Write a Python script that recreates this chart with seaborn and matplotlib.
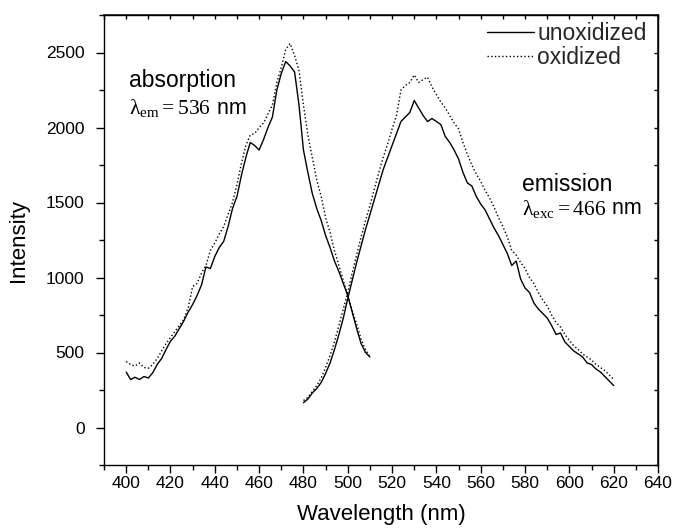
import matplotlib
matplotlib.use("Agg")
import matplotlib.pyplot as plt
from matplotlib.lines import Line2D
from matplotlib.ticker import MultipleLocator
import seaborn as sns

# ---- data ----
abs_wl = list(range(400, 511, 2))
abs_unox = [370, 320, 335, 320, 340, 330, 365, 420, 460, 520, 575, 610, 660, 710, 770,
            820, 880, 950, 1070, 1060, 1140, 1200, 1240, 1340, 1460, 1540, 1680, 1800,
            1900, 1880, 1850, 1920, 2000, 2070, 2250, 2360, 2440, 2410, 2370, 2150, 1850,
            1700, 1560, 1460, 1380, 1280, 1200, 1110, 1040, 960, 880, 770, 660, 560, 500, 470]
abs_ox = [440, 420, 410, 430, 400, 395, 420, 460, 510, 560, 600, 640, 680, 720, 800,
          940, 960, 1030, 1080, 1180, 1230, 1290, 1340, 1420, 1500, 1620, 1760, 1880,
          1950, 1960, 2000, 2030, 2090, 2150, 2300, 2400, 2520, 2560, 2480, 2380, 2150,
          1950, 1800, 1650, 1540, 1400, 1300, 1180, 1080, 980, 880, 780, 690, 590, 520, 470]

em_wl = list(range(480, 621, 2))
em_unox = [165, 190, 230, 260, 300, 360, 430, 520, 620, 730, 860, 980, 1100, 1210, 1320,
           1420, 1520, 1620, 1720, 1800, 1880, 1960, 2040, 2070, 2100, 2180, 2130, 2080,
           2040, 2060, 2040, 2020, 1940, 1900, 1850, 1790, 1700, 1630, 1610, 1540, 1490,
           1450, 1390, 1330, 1280, 1220, 1160, 1080, 1110, 990, 930, 900, 830, 790, 760,
           730, 680, 620, 630, 570, 540, 510, 490, 470, 430, 420, 390, 370, 340, 310, 280]
em_ox = [180, 200, 240, 280, 330, 400, 480, 570, 680, 790, 900, 1030, 1150, 1270, 1380,
         1480, 1590, 1700, 1800, 1890, 1990, 2080, 2250, 2280, 2300, 2350, 2300, 2320,
         2335, 2270, 2220, 2170, 2130, 2080, 2030, 1990, 1900, 1820, 1750, 1690, 1640,
         1580, 1530, 1470, 1400, 1340, 1270, 1180, 1150, 1100, 1060, 1000, 960, 900, 850,
         810, 750, 700, 670, 620, 580, 545, 520, 490, 470, 450, 420, 400, 380, 350, 320]

series_labels = ["unoxidized", "oxidized"]
xticks = list(range(400, 641, 20))
yticks = list(range(0, 2501, 500))

# ---- styling ----
sns.set_theme(style="ticks")
plt.rcParams["font.family"] = ["Liberation Sans", "DejaVu Sans"]
plt.rcParams["mathtext.fontset"] = "custom"
plt.rcParams["mathtext.rm"] = "Liberation Serif"
plt.rcParams["mathtext.it"] = "Liberation Serif"

fig = plt.figure(figsize=(6.75, 5.31), dpi=100)
W, H = 675, 531
ax = fig.add_axes([104 / W, (H - 465) / H, (658 - 104) / W, (465 - 15) / H])

sns.lineplot(x=abs_wl, y=abs_unox, ax=ax, color="black", lw=1.0, sort=False)
sns.lineplot(x=abs_wl, y=abs_ox, ax=ax, color="black", lw=1.0, linestyle=":", sort=False)
sns.lineplot(x=em_wl, y=em_unox, ax=ax, color="black", lw=1.0, sort=False)
sns.lineplot(x=em_wl, y=em_ox, ax=ax, color="black", lw=1.0, linestyle=":", sort=False)

ax.set_xlim(390, 640)
ax.set_ylim(-250, 2750)
ax.set_xticks(xticks)
ax.set_yticks(yticks)
ax.xaxis.set_minor_locator(MultipleLocator(10))
ax.yaxis.set_minor_locator(MultipleLocator(250))
ax.tick_params(which="major", direction="out", length=6, width=1.0, labelsize=12.5,
               colors="black")
ax.tick_params(axis="y", which="major", pad=8)
ax.tick_params(axis="x", which="major", pad=2)
ax.tick_params(which="minor", direction="out", length=3.5, width=1.0, colors="black")
for s in ax.spines.values():
    s.set_visible(True)
    s.set_linewidth(1.0)
    s.set_color("black")

# mirrored inner ticks on top / right
top = ax.secondary_xaxis("top")
top.set_xticks(xticks)
top.xaxis.set_minor_locator(MultipleLocator(10))
top.tick_params(which="both", direction="in", length=3, width=1.0, labeltop=False, colors="black")
right = ax.secondary_yaxis("right")
right.set_yticks(yticks)
right.yaxis.set_minor_locator(MultipleLocator(250))
right.tick_params(which="both", direction="in", length=3, width=1.0, labelright=False, colors="black")

ax.set_xlabel("Wavelength (nm)", fontsize=16, labelpad=9, color="black")
ax.set_ylabel("Intensity", fontsize=16, labelpad=12, color="black")

# annotations
fs = 16.5
fs2 = 15.5
ax.text(401.3, 2313, "absorption", fontsize=fs, va="center", ha="left", color="black")
t1 = ax.text(401.3, 2127, r"$\mathrm{\lambda_{em}{=}536}$", fontsize=fs2, va="center",
             ha="left", color="black")
ax.annotate(" nm", xy=(1, 0.5), xycoords=t1, va="center", ha="left", fontsize=fs2, color="black")
ax.text(578.5, 1620, "emission", fontsize=fs, va="center", ha="left", color="black")
t2 = ax.text(578.5, 1460, r"$\mathrm{\lambda_{exc}{=}466}$", fontsize=fs2, va="center",
             ha="left", color="black")
ax.annotate(" nm", xy=(1, 0.5), xycoords=t2, va="center", ha="left", fontsize=fs2, color="black")

handles = [Line2D([], [], color="black", lw=1.0),
           Line2D([], [], color="black", lw=1.0, linestyle=":")]
ax.legend(handles, series_labels, loc="upper left", bbox_to_anchor=(487 / W, 1 - 22 / H),
          bbox_transform=fig.transFigure, frameon=False, fontsize=fs, handlelength=2.05,
          handletextpad=0.15, labelspacing=0.05, borderpad=0, borderaxespad=0)

fig.savefig("out.png", dpi=100)
